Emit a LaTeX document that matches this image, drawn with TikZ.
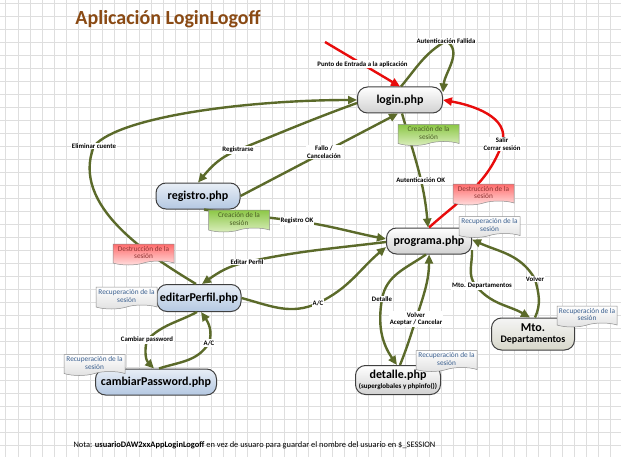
\documentclass[tikz,border=0pt]{standalone}
\usepackage{fontspec}
\setmainfont{Carlito}
\usetikzlibrary{arrows.meta, shapes.symbols}
\definecolor{oliva}{HTML}{5B6A2A}
\definecolor{rojo}{HTML}{E80C0C}
\definecolor{marron}{HTML}{8A4A14}
\definecolor{rejilla}{HTML}{DEDEDE}
\definecolor{azulclaro}{HTML}{E8EEF6}
\definecolor{azul}{HTML}{B4C8E2}
\definecolor{txtazul}{HTML}{3A5F8F}
\definecolor{txtverde}{HTML}{4A5E24}
\definecolor{txtrojo}{HTML}{8E3432}
\definecolor{verde}{HTML}{8CC746}
\definecolor{verdeclaro}{HTML}{DCEFC0}

\begin{document}
\begin{tikzpicture}[x=1pt, y=1pt,
  pagina/.style={rectangle, rounded corners=10pt, draw=black!75, line width=1pt,
                 minimum width=85pt, minimum height=26pt, inner sep=1pt,
                 font=\fontsize{12}{13}\selectfont\bfseries, align=center,
                 top color=white, bottom color=black!18},
  perfil/.style={pagina, top color=azulclaro, bottom color=azul},
  mto/.style={pagina, top color=black!4, bottom color=olive!30!black!18},
  nota/.style={shape=tape, tape bend top=none, tape bend bottom=in and out,
               tape bend height=4pt, draw=black!45, line width=0.5pt,
               minimum width=61pt, minimum height=21pt, inner sep=1pt,
               align=center, font=\fontsize{7.3}{7.8}\selectfont},
  recup/.style={nota, top color=white, bottom color=black!12, text=txtazul},
  crea/.style={nota, top color=verde, bottom color=verdeclaro, text=txtverde},
  destruye/.style={nota, top color=red!58, bottom color=red!12, text=txtrojo},
  lbl/.style={fill=white, inner sep=1pt, align=center, text=black,
              font=\fontsize{6.8}{7.6}\selectfont\bfseries},
  flecha/.style={-{Triangle[length=9pt, width=8pt]}, line width=2.4pt, color=oliva},
  salida/.style={flecha, color=rojo}
]
\useasboundingbox (0,0) rectangle (621,456);
\fill[white] (0,0) rectangle (621,456);
\draw[rejilla, line width=0.6pt, xstep=12.1, ystep=13, shift={(5.7,10.3)}]
  (-12,-13) grid (621,456);

\node[font=\fontsize{20}{22}\selectfont\bfseries, text=marron] (titulo) at (168,437)
  {Aplicación LoginLogoff};

% paginas
\node[pagina] (login) at (400,356) {login.php};
\node[pagina] (programa) at (429,215) {programa.php};
\node[perfil, minimum width=84pt] (registro) at (198,260) {registro.php};
\node[perfil, minimum width=84pt, minimum height=27pt] (editar) at (199,158) {editarPerfil.php};
\node[perfil, minimum width=121pt] (cambiar) at (156,74) {cambiarPassword.php};
\node[pagina, minimum height=29pt] (detalle) at (398,76)
  {detalle.php\\[-3pt]{\fontsize{7}{8}\selectfont (superglobales y phpinfo())}};
\node[mto, minimum width=83pt, minimum height=32pt] (mto) at (533,122)
  {Mto.\\[-2pt]{\fontsize{10}{11}\selectfont Departamentos}};
\coordinate (entrada) at (325,414);

% conexiones
\draw[salida] (entrada) -- node[lbl] {Punto de Entrada a la aplicación} (login.north);
\draw[flecha] ([xshift=1pt]login.north) to[out=50, in=210] (446,415)
  node[lbl] {Autenticación Fallida} to[out=-30, in=85] (login.10);
\draw[salida] (programa.north) to[out=42, in=250] (502,312)
  node[lbl] {Salir\\Cerrar sesión} to[out=72, in=-10] (login.east);
\draw[flecha] ([xshift=2pt]login.south) to[out=-74, in=95]
  node[lbl, pos=0.6] {Autenticación OK} ([xshift=-1pt]programa.north);
\draw[flecha] ([yshift=-3pt]login.west) to[out=200, in=22] (238,306)
  node[lbl] {Registrarse} to[out=202, in=50] (registro.north);
\draw[flecha] (registro.east) -- node[lbl, pos=0.53] {Fallo /\\Cancelación}
  ([xshift=-2pt]login.south);
\draw[flecha] ([xshift=-3pt]editar.north) .. controls (150,200) and (70,250) .. (94,310)
  node[lbl] {Eliminar cuente} .. controls (120,340) and (250,356) .. (login.west);
\draw[flecha] ([yshift=-1pt]programa.west) to[out=187, in=12] (247,194)
  node[lbl] {Editar Perfil} to[out=192, in=35] ([xshift=3pt]editar.north);
\draw[flecha] ([xshift=6pt]registro.south) to[out=-8, in=173] (297,235)
  node[lbl] {Registro OK} to[out=-8, in=169] ([yshift=2pt]programa.west);
\draw[flecha] (editar.east) to[out=-15, in=205] (318,153)
  node[lbl] {A/C} to[out=25, in=220] (programa.188);
\draw[flecha] ([xshift=-3pt]programa.south) to[out=215, in=80] (382,157)
  node[lbl] {Detalle} to[out=260, in=125] ([xshift=-1pt]detalle.north);
\draw[flecha] ([xshift=2pt]detalle.north) to[out=68, in=252] (416,137)
  node[lbl] {Volver\\Aceptar / Cancelar} to[out=72, in=-90] (programa.south);
\draw[flecha] (programa.-12) to[out=-88, in=130] (476,170)
  node[lbl, xshift=6pt] {Mto. Departamentos} to[out=-50, in=150] ([xshift=-3pt]mto.north);
\draw[flecha] ([xshift=2pt]mto.north) to[out=65, in=-75] (535,177)
  node[lbl] {Volver} to[out=120, in=-25] (programa.2);
\draw[flecha] ([xshift=-2pt]editar.south) to[out=208, in=45] (147,116)
  node[lbl] {Cambiar password} to[out=255, in=135] ([xshift=-2pt]cambiar.north);
\draw[flecha] ([xshift=3pt]cambiar.north) to[out=18, in=238] (209,113)
  node[lbl] {A/C} to[out=72, in=-55] ([xshift=2pt]editar.south);

% notas de sesion
\node[crea] (crea1) at (428.5,323) {Creación de la\\sesión};
\node[crea, minimum height=22pt] (crea2) at (239,237) {Creación de la\\sesión};
\node[destruye] (dest1) at (483.5,263.5) {Destrucción de la\\sesión};
\node[destruye] (dest2) at (143.5,203.5) {Destrucción de la\\sesión};
\node[recup] (rec1) at (489.5,231) {Recuperación de la\\sesión};
\node[recup, minimum height=22pt] (rec2) at (126.5,160) {Recuperación de la\\sesión};
\node[recup] (rec3) at (94.5,93) {Recuperación de la\\sesión};
\node[recup] (rec4) at (446.5,97) {Recuperación de la\\sesión};
\node[recup, minimum width=60pt] (rec5) at (587,141.5) {Recuperación de la\\sesión};

\node[anchor=west, font=\fontsize{8.4}{9}\selectfont] (nota) at (70,11)
  {Nota: \textbf{usuarioDAW2xxAppLoginLogoff} en vez de usuaro para guardar el nombre del usuario en \$\_SESSION};
\end{tikzpicture}
\end{document}
